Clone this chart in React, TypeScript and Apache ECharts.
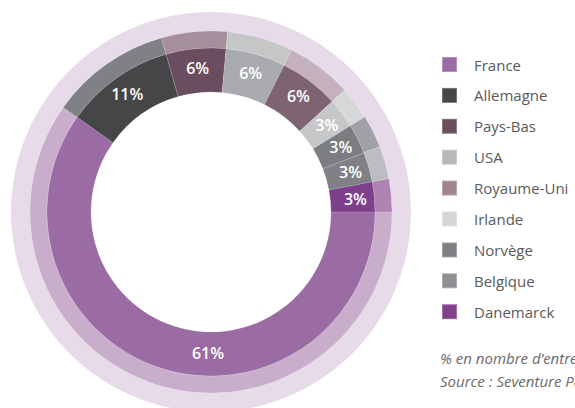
import React, { useEffect, useRef } from "react";
import * as echarts from "echarts";

const countries = ["France", "Allemagne", "Pays-Bas", "USA", "Royaume-Uni", "Irlande", "Norvège", "Belgique", "Danemarck"];
const shares = [61, 11, 6, 6, 6, 3, 3, 3, 3];
const innerColors = ["#9b6ba3", "#454648", "#6a4d5e", "#a9aaad", "#7e6373", "#c6c7c9", "#7c7d81", "#808185", "#7e3f8b"];
const middleColors = ["#c9aecb", "#7f8185", "#a68f9b", "#c5c6c8", "#c4b1bb", "#d6d7d8", "#a0a1a4", "#bcbdc0", "#b083b5"];
const legendColors = ["#9b6ba3", "#464749", "#6b4e5e", "#b8b8bb", "#a08490", "#d5d5d7", "#7f8084", "#8f9094", "#804189"];
const notes = ["% en nombre d\u2019entreprises", "Source : Seventure Partners"];

export default function App() {
  const ref = useRef<HTMLDivElement>(null);
  useEffect(() => {
    document.body.style.margin = "0";
    if (!ref.current) return;
    const chart = echarts.init(ref.current, null, { renderer: "svg" });
    const cx = 211, cy = 212;
    chart.setOption({
      animation: false,
      backgroundColor: "#ffffff",
      legend: {
        orient: "vertical",
        left: 441,
        top: 56,
        padding: 0,
        itemWidth: 15,
        itemHeight: 15,
        itemGap: 13.9,
        icon: "rect",
        selectedMode: false,
        data: countries.map((n, i) => ({ name: n, itemStyle: { color: legendColors[i] } })),
        textStyle: {
          fontFamily: "Open Sans",
          fontSize: 15,
          lineHeight: 15,
          color: "#5a5a5a",
          padding: [0, 0, 0, 12],
        },
      },
      graphic: [
        {
          type: "text",
          left: 440,
          top: 350,
          z: 100,
          style: { text: notes[0], font: "italic 15px 'Open Sans'", fill: "#6a6a6a" },
        },
        {
          type: "text",
          left: 440,
          top: 373,
          z: 100,
          style: { text: notes[1], font: "italic 15px 'Open Sans'", fill: "#6a6a6a" },
        },
        {
          type: "text",
          x: cx - 3,
          y: cy + 141,
          z: 100,
          style: {
            text: shares[0] + "%",
            font: "600 16px 'Open Sans'",
            fill: "#ffffff",
            align: "center",
            verticalAlign: "middle",
          },
        },
      ],
      series: [
        {
          type: "pie",
          silent: true,
          center: [cx, cy],
          radius: [181, 200],
          label: { show: false },
          labelLine: { show: false },
          data: [{ name: "", value: 1, itemStyle: { color: "#e8dbe9" } }],
        },
        {
          type: "pie",
          silent: true,
          center: [cx, cy],
          radius: [164, 181],
          startAngle: 0,
          clockwise: true,
          label: { show: false },
          labelLine: { show: false },
          itemStyle: { borderColor: "rgba(255,255,255,0.25)", borderWidth: 0.5 },
          data: countries.map((n, i) => ({ name: n, value: shares[i], itemStyle: { color: middleColors[i] } })),
        },
        {
          type: "pie",
          silent: true,
          center: [cx, cy],
          radius: [120, 164],
          startAngle: 0,
          clockwise: true,
          itemStyle: { borderColor: "rgba(255,255,255,0.25)", borderWidth: 0.5 },
          label: {
            show: true,
            position: "inside",
            color: "#ffffff",
            fontFamily: "Open Sans",
            fontWeight: 600,
            fontSize: 16,
            formatter: (p: any) => (p.dataIndex === 0 ? "" : p.value + "%"),
          },
          labelLine: { show: false },
          data: countries.map((n, i) => ({ name: n, value: shares[i], itemStyle: { color: innerColors[i] } })),
        },
      ],
    });
    return () => chart.dispose();
  }, []);
  return <div ref={ref} style={{ width: 575, height: 408 }} />;
}
